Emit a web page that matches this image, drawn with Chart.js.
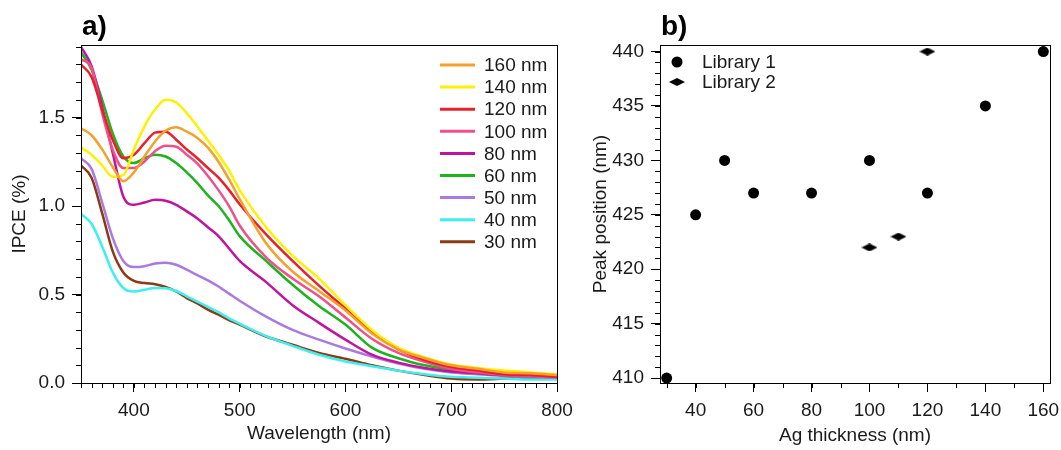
<!DOCTYPE html>
<html>
<head>
<meta charset="utf-8">
<script src="https://cdn.jsdelivr.net/npm/chart.js@4.4.1/dist/chart.umd.min.js"></script>
<style>
  html, body { margin: 0; padding: 0; background: #fff; }
  #wrap { position: relative; width: 1061px; height: 450px; }
  canvas { position: absolute; top: 0; }
  #left { left: 0; }
  #right { left: 575px; }
</style>
</head>
<body>
<div id="wrap">
  <canvas id="left" width="575" height="450"></canvas>
  <canvas id="right" width="486" height="450"></canvas>
</div>
<script>
// panel a) IPCE spectra
const wavelengths = [350,360,370,380,390,400,410,420,430,440,450,460,470,480,490,500,525,550,575,600,625,650,675,700,725,750,775,800];
const ipce160 = [1.44,1.40,1.32,1.22,1.14,1.19,1.28,1.365,1.425,1.445,1.42,1.385,1.33,1.25,1.15,1.04,0.79,0.63,0.52,0.41,0.28,0.19,0.14,0.10,0.08,0.06,0.055,0.045];
const ipce140 = [1.33,1.29,1.23,1.165,1.175,1.32,1.45,1.545,1.60,1.585,1.525,1.45,1.37,1.29,1.20,1.09,0.88,0.72,0.59,0.44,0.30,0.20,0.145,0.105,0.085,0.07,0.06,0.05];
const ipce120 = [1.80,1.73,1.545,1.375,1.27,1.29,1.355,1.415,1.42,1.375,1.32,1.27,1.215,1.16,1.09,1.01,0.84,0.69,0.55,0.42,0.29,0.19,0.13,0.09,0.07,0.05,0.045,0.035];
const ipce100 = [1.83,1.78,1.525,1.318,1.215,1.215,1.252,1.31,1.34,1.335,1.29,1.24,1.17,1.09,1.00,0.89,0.71,0.59,0.49,0.37,0.25,0.17,0.12,0.08,0.06,0.045,0.04,0.03];
const ipce80 = [1.90,1.79,1.56,1.30,1.054,1.007,1.02,1.035,1.03,1.007,0.97,0.93,0.88,0.83,0.76,0.69,0.57,0.44,0.34,0.245,0.16,0.115,0.085,0.065,0.055,0.045,0.04,0.035];
const ipce60 = [1.87,1.77,1.60,1.41,1.28,1.243,1.27,1.29,1.28,1.243,1.19,1.13,1.06,1.00,0.92,0.83,0.69,0.555,0.435,0.33,0.20,0.14,0.10,0.075,0.055,0.045,0.04,0.035];
const ipce50 = [1.27,1.21,1.02,0.82,0.69,0.655,0.66,0.675,0.68,0.668,0.64,0.61,0.58,0.545,0.505,0.465,0.375,0.30,0.245,0.195,0.15,0.11,0.08,0.06,0.05,0.04,0.035,0.03];
const ipce40 = [0.955,0.90,0.772,0.625,0.537,0.517,0.527,0.537,0.535,0.52,0.49,0.46,0.43,0.40,0.365,0.335,0.265,0.21,0.16,0.122,0.095,0.07,0.05,0.035,0.03,0.025,0.02,0.02];
const ipce30 = [1.23,1.16,0.96,0.744,0.625,0.577,0.565,0.558,0.543,0.517,0.48,0.45,0.415,0.386,0.356,0.33,0.263,0.216,0.17,0.137,0.10,0.07,0.045,0.025,0.02,0.025,0.03,0.03];
const wlTicks = [400,500,600,700,800];
const ipceTicks = [0,0.5,1.0,1.5];

// panel b) peak positions
const thickness1 = [30,40,50,60,80,100,120,140,160];
const peak1 = [410,425,430,427,427,430,427,435,440];
const thickness2 = [100,110,120];
const peak2 = [422,423,440];
const thickTicks = [40,60,80,100,120,140,160];
const peakTicks = [410,415,420,425,430,435,440];

const FONT = '"Liberation Sans", Arial, sans-serif';
const INK = '#1a1a1a';
Chart.defaults.font.family = FONT;
Chart.defaults.color = INK;

const series = [
  { label: '160 nm', data: ipce160, color: '#F5A02A' },
  { label: '140 nm', data: ipce140, color: '#FFF000' },
  { label: '120 nm', data: ipce120, color: '#E8202A' },
  { label: '100 nm', data: ipce100, color: '#F0508A' },
  { label: '80 nm',  data: ipce80,  color: '#C0139F' },
  { label: '60 nm',  data: ipce60,  color: '#1DB31D' },
  { label: '50 nm',  data: ipce50,  color: '#A97AE0' },
  { label: '40 nm',  data: ipce40,  color: '#3FEFEF' },
  { label: '30 nm',  data: ipce30,  color: '#8B3A12' }
];

// box around plot area, panel letter, minor ticks
const frame = {
  id: 'frame',
  afterDraw(chart, args, opts) {
    const { ctx, chartArea: a } = chart;
    ctx.save();
    ctx.strokeStyle = '#000';
    ctx.lineWidth = 1;
    ctx.strokeRect(Math.round(a.left) + 0.5, Math.round(a.top) + 0.5, Math.round(a.width), Math.round(a.height));
    ctx.fillStyle = '#000';
    ctx.font = 'bold 28px ' + FONT;
    ctx.textBaseline = 'alphabetic';
    ctx.fillText(opts.letter, a.left + 1, 35);
    for (const [id, step] of Object.entries(opts.minor)) {
      const s = chart.scales[id];
      const n0 = Math.ceil(s.min / step - 1e-6), n1 = Math.floor(s.max / step + 1e-6);
      ctx.beginPath();
      for (let n = n0; n <= n1; n++) {
        const p = Math.round(s.getPixelForValue(n * step)) + 0.5;
        if (s.isHorizontal()) { ctx.moveTo(p, s.top); ctx.lineTo(p, s.top + 5); }
        else { ctx.moveTo(s.right, p); ctx.lineTo(s.right - 5, p); }
      }
      ctx.stroke();
    }
    ctx.restore();
  }
};

const lineLegend = {
  id: 'lineLegend',
  afterDraw(chart) {
    const { ctx, chartArea: a } = chart;
    ctx.save();
    ctx.font = '19px ' + FONT;
    ctx.textBaseline = 'middle';
    ctx.fillStyle = INK;
    chart.data.datasets.forEach((ds, i) => {
      const y = a.top + 20 + i * 22.1;
      ctx.strokeStyle = ds.borderColor;
      ctx.lineWidth = 3;
      ctx.beginPath();
      ctx.moveTo(a.right - 117, y);
      ctx.lineTo(a.right - 82, y);
      ctx.stroke();
      ctx.fillText(ds.label, a.right - 73, y + 1);
    });
    ctx.restore();
  }
};

const markLegend = {
  id: 'markLegend',
  afterDraw(chart) {
    const { ctx, chartArea: a } = chart;
    ctx.save();
    ctx.font = '19px ' + FONT;
    ctx.textBaseline = 'middle';
    chart.data.datasets.forEach((ds, i) => {
      const y = a.top + 17 + i * 20;
      const x = a.left + 17;
      if (ds.pointStyle === 'circle') {
        ctx.fillStyle = '#000';
        ctx.beginPath();
        ctx.arc(x, y, ds.pointRadius, 0, Math.PI * 2);
        ctx.fill();
      } else {
        ctx.drawImage(ds.pointStyle, x - ds.pointStyle.width / 2, y - ds.pointStyle.height / 2);
      }
      ctx.fillStyle = INK;
      ctx.fillText(ds.label, a.left + 42, y + 1);
    });
    ctx.restore();
  }
};

function diamond(w, h) {
  const c = document.createElement('canvas');
  c.width = w; c.height = h;
  const g = c.getContext('2d');
  g.fillStyle = '#000';
  g.beginPath();
  g.moveTo(0, h / 2); g.lineTo(w / 2, 0); g.lineTo(w, h / 2); g.lineTo(w / 2, h);
  g.closePath();
  g.fill();
  return c;
}

function axis(opts) {
  return {
    type: 'linear',
    min: opts.min,
    max: opts.max,
    afterBuildTicks: s => { s.ticks = opts.ticks.map(v => ({ value: v })); },
    afterFit: s => {
      if (opts.width) s.width = opts.width;
      if (opts.height) s.height = opts.height;
      // keep label overhang from shrinking the plot area
      s.paddingLeft = s.paddingRight = s.paddingTop = s.paddingBottom = 0;
    },
    grid: { drawOnChartArea: false, tickLength: 9, color: '#000', tickWidth: 1 },
    border: { color: '#000', width: 1 },
    ticks: {
      padding: opts.pad,
      autoSkip: false,
      maxRotation: 0,
      font: { size: 19 },
      color: INK,
      callback: opts.fmt || (v => v)
    },
    title: { display: true, text: opts.title, font: { size: 19 }, color: INK, padding: opts.titlePad }
  };
}

new Chart(document.getElementById('left'), {
  type: 'line',
  data: {
    datasets: series.map(s => ({
      label: s.label,
      data: wavelengths.map((w, i) => ({ x: w, y: s.data[i] })),
      borderColor: s.color,
      backgroundColor: s.color,
      borderWidth: 2.5,
      pointRadius: 0,
      cubicInterpolationMode: 'monotone'
    }))
  },
  options: {
    responsive: false,
    animation: false,
    devicePixelRatio: 1,
    layout: { padding: { left: 0, top: 45, right: 18, bottom: 0 } },
    plugins: { legend: { display: false }, tooltip: { enabled: false }, frame: { letter: 'a)', minor: { x: 10, y: 0.1 } } },
    scales: {
      x: axis({ min: 350, max: 800, ticks: wlTicks, height: 67, pad: 7, title: 'Wavelength (nm)', titlePad: { top: 0, bottom: 5 } }),
      y: axis({ min: 0, max: 1.91, ticks: ipceTicks, width: 81, pad: 7, fmt: v => v.toFixed(1), title: 'IPCE (%)', titlePad: { top: 8, bottom: 0 } })
    }
  },
  plugins: [frame, lineLegend]
});

new Chart(document.getElementById('right'), {
  type: 'scatter',
  data: {
    datasets: [
      {
        label: 'Library 1',
        data: thickness1.map((t, i) => ({ x: t, y: peak1[i] })),
        pointStyle: 'circle',
        pointRadius: 5.5,
        backgroundColor: '#000',
        borderColor: '#000',
        borderWidth: 0,
        clip: false
      },
      {
        label: 'Library 2',
        data: thickness2.map((t, i) => ({ x: t, y: peak2[i] })),
        pointStyle: diamond(16, 8),
        pointRadius: 6,
        backgroundColor: '#000',
        borderColor: '#000',
        clip: false
      }
    ]
  },
  options: {
    responsive: false,
    animation: false,
    devicePixelRatio: 1,
    layout: { padding: { left: 0, top: 45, right: 11, bottom: 0 } },
    plugins: { legend: { display: false }, tooltip: { enabled: false }, frame: { letter: 'b)', minor: { x: 10, y: 1 } } },
    scales: {
      x: axis({ min: 27.7, max: 162.3, ticks: thickTicks, height: 67, pad: 7, title: 'Ag thickness (nm)', titlePad: { top: 0, bottom: 3 } }),
      y: axis({ min: 409.55, max: 440.6, ticks: peakTicks, width: 85, pad: 7, title: 'Peak position (nm)', titlePad: { top: 14, bottom: 0 } })
    }
  },
  plugins: [frame, markLegend]
});
</script>
</body>
</html>
